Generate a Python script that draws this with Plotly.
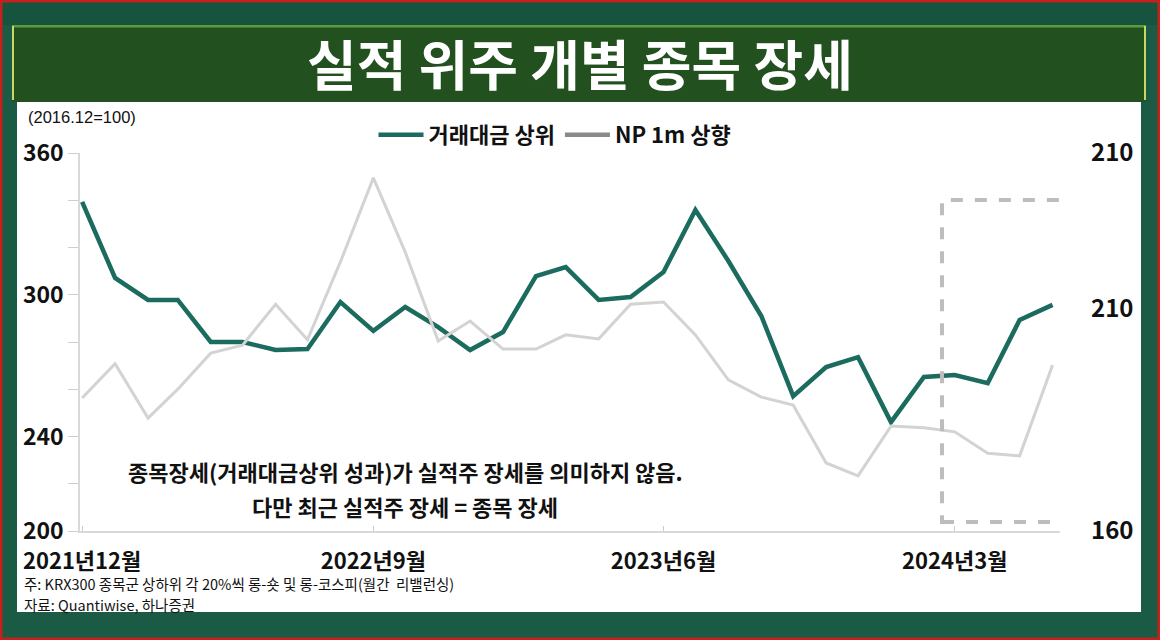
import plotly.graph_objects as go
import pandas as pd

# ---------------- data ----------------
months = pd.date_range("2021-12-01", periods=31, freq="MS")
top_value = [339.3, 307.1, 297.8, 297.8, 280.0, 280.0, 276.6, 277.0, 296.9, 284.7,
             294.8, 286.3, 276.6, 284.2, 307.9, 311.7, 297.8, 299.0, 309.6, 335.9,
             314.3, 291.0, 257.1, 269.4, 273.6, 246.1, 265.2, 266.0, 262.6, 289.3,
             295.7]
np_up = [189.9, 197.6, 185.4, 191.9, 200.0, 201.8, 211.0, 203.0, 220.5, 239.4,
         222.7, 202.7, 207.2, 200.9, 200.9, 204.1, 203.2, 211.0, 211.5, 204.1,
         194.0, 190.1, 188.3, 175.3, 172.4, 183.6, 183.2, 182.3, 177.5, 176.9,
         197.3]
series_names = ["거래대금 상위", "NP 1m 상향"]
x_tick_dates = ["2021-12-01", "2022-09-01", "2023-06-01", "2024-03-01"]
x_tick_text = ["2021년12월", "2022년9월", "2023년6월", "2024년3월"]
left_tickvals = [200, 220, 240, 260, 280, 300, 320, 340, 360]
left_ticktext = ["200", "", "240", "", "", "300", "", "", "360"]
right_tickvals = [160, 210, 245]
right_ticktext = ["160", "210", "210"]
title_text = "실적 위주 개별 종목 장세"
unit_text = "(2016.12=100)"
note_line1 = "종목장세(거래대금상위 성과)가 실적주 장세를 의미하지 않음."
note_line2 = "다만 최근 실적주 장세 = 종목 장세"
foot1 = "주: KRX300 종목군 상하위 각 20%씩 롱-숏 및 롱-코스피(월간  리밸런싱)"
foot2 = "자료: Quantiwise, 하나증권"

# ---------------- layout helpers ----------------
W, H = 1160, 640
L, R, T, B = 80, 1060, 153, 531


def px(x):
    return (x - L) / (R - L)


def py(y):
    return (B - y) / (B - T)


TEAL = "#1b6b5e"
GRAY = "#d3d3d3"
NARROW = "Liberation Sans Narrow, Arial Narrow, Noto Sans CJK KR, sans-serif"
KR = "Noto Sans CJK KR, sans-serif"

fig = go.Figure()
fig.add_trace(go.Scatter(x=months, y=top_value, name=series_names[0], mode="lines",
                         line=dict(color=TEAL, width=4.5), yaxis="y"))
fig.add_trace(go.Scatter(x=months, y=np_up, name=series_names[1], mode="lines",
                         line=dict(color=GRAY, width=3), yaxis="y2", showlegend=False))
# legend entry for the grey series (legend sample is drawn darker in the original)
fig.add_trace(go.Scatter(x=[None], y=[None], name=series_names[1], mode="lines",
                         line=dict(color="#8a8a8a", width=4.5), yaxis="y2"))

shapes = [
    # white panel
    dict(type="rect", xref="paper", yref="paper", x0=px(17), x1=px(1141), y0=py(612), y1=py(100),
         fillcolor="white", line=dict(width=0), layer="below"),
    # title banner
    dict(type="rect", xref="paper", yref="paper", x0=px(12), x1=px(1146), y0=py(102), y1=py(25),
         fillcolor="#22501f", line=dict(width=0), layer="below"),
    dict(type="line", xref="paper", yref="paper", x0=px(12), x1=px(1146), y0=py(26), y1=py(26),
         line=dict(color="#5d9a3c", width=3), layer="below"),
    dict(type="line", xref="paper", yref="paper", x0=px(13), x1=px(13), y0=py(26), y1=py(100),
         line=dict(color="#c8d860", width=2), layer="below"),
    dict(type="line", xref="paper", yref="paper", x0=px(1145), x1=px(1145), y0=py(26), y1=py(100),
         line=dict(color="#c8d860", width=2), layer="below"),
    # top band
    dict(type="rect", xref="paper", yref="paper", x0=px(0), x1=px(1160), y0=py(25), y1=py(0),
         fillcolor="#17543f", line=dict(width=0), layer="below"),
    # red frame
    dict(type="rect", xref="paper", yref="paper", x0=px(1), x1=px(1159), y0=py(639), y1=py(1),
         fillcolor="rgba(0,0,0,0)", line=dict(color="#c4201c", width=3), layer="above"),
    # dashed highlight box
    dict(type="rect", xref="x", yref="y", x0="2024-02-18", x1="2024-06-15", y0=203.8, y1=340.1,
         fillcolor="rgba(0,0,0,0)", line=dict(color="#bdbdbd", width=4, dash="dash"), layer="above"),
]

annotations = [
    dict(text=title_text, xref="paper", yref="paper", x=px(580), y=py(63), showarrow=False,
         xanchor="center", yanchor="middle",
         font=dict(family=KR, size=54, color="white", weight="bold")),
    dict(text=unit_text, xref="paper", yref="paper", x=px(26), y=py(117), showarrow=False,
         xanchor="left", yanchor="middle",
         font=dict(family="Liberation Sans, Arial, sans-serif", size=16.5, color="#111")),
    dict(text=note_line1, xref="paper", yref="paper", x=px(405), y=py(471), showarrow=False,
         xanchor="center", yanchor="middle",
         font=dict(family=KR, size=22, color="#111", weight="bold")),
    dict(text=note_line2, xref="paper", yref="paper", x=px(405), y=py(506), showarrow=False,
         xanchor="center", yanchor="middle",
         font=dict(family=KR, size=22, color="#111", weight="bold")),
    dict(text=foot1, xref="paper", yref="paper", x=px(22), y=py(583), showarrow=False,
         xanchor="left", yanchor="middle",
         font=dict(family=NARROW, size=14.5, color="#111")),
    dict(text=foot2, xref="paper", yref="paper", x=px(22), y=py(604), showarrow=False,
         xanchor="left", yanchor="middle",
         font=dict(family=NARROW, size=14.5, color="#111")),
]

fig.update_layout(
    width=W, height=H,
    margin=dict(l=L, r=W - R, t=T, b=H - B, pad=0),
    paper_bgcolor="#1b5a45",
    plot_bgcolor="rgba(0,0,0,0)",
    shapes=shapes,
    annotations=annotations,
    showlegend=True,
    legend=dict(orientation="h", x=px(555), y=py(135), xanchor="center", yanchor="middle",
                font=dict(family=KR, size=22, color="#111", weight="bold"),
                bgcolor="rgba(0,0,0,0)", itemwidth=45, tracegroupgap=0),
    xaxis=dict(type="date", range=["2021-11-29", "2024-06-08"],
               tickvals=x_tick_dates, ticktext=x_tick_text,
               showgrid=False, zeroline=False, showline=True, linecolor="#d9d9d9", linewidth=1.5,
               ticks="inside", ticklen=5, tickcolor="#cccccc", ticklabelstandoff=10,
               tickfont=dict(family=NARROW, size=22, color="#111", weight="bold")),
    yaxis=dict(range=[200, 360], tickvals=left_tickvals, ticktext=left_ticktext,
               showgrid=False, zeroline=False, showline=True, linecolor="#d9d9d9", linewidth=1.5,
               ticks="outside", ticklen=10, tickcolor="#cfcfcf",
               tickfont=dict(family=NARROW, size=23, color="#111", weight="bold")),
    yaxis2=dict(range=[160, 245], overlaying="y", side="right",
                tickvals=right_tickvals, ticktext=right_ticktext,
                showgrid=False, zeroline=False, showline=False, ticks="",
                ticklabelstandoff=30,
                tickfont=dict(family=NARROW, size=24, color="#111", weight="bold")),
)

fig.write_html("out.html")
